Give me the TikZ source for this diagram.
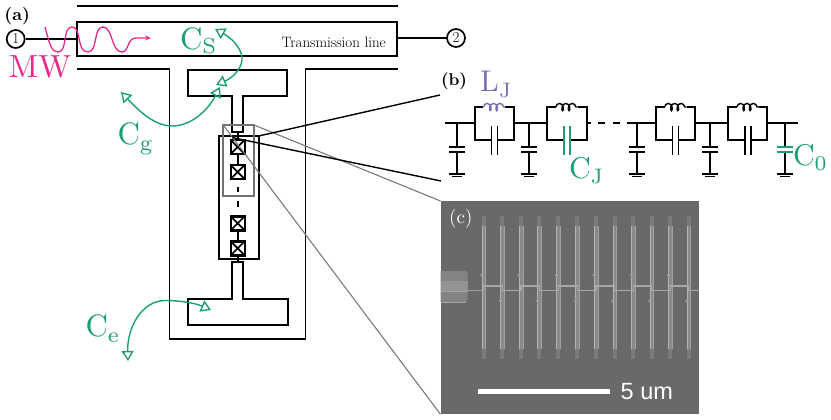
\documentclass[tikz,border=0pt]{standalone}
\usepackage{fontspec}
\newfontfamily\scalefont{Liberation Sans}
\usetikzlibrary{arrows.meta,decorations.pathmorphing}
\definecolor{dgreen}{HTML}{1B9E77}
\definecolor{dpurple}{HTML}{7570B3}
\definecolor{dpink}{HTML}{E7298A}
\definecolor{sembg}{HTML}{696969}
\newcommand{\fsz}[1]{\fontsize{#1}{#1}\selectfont}
% #1 scale, #2 letter, #3 subscript, #4 drop
\newcommand{\csub}[4]{\scalebox{#1}{\fsz{10}#2\raisebox{-#4pt}{\fsz{7}#3}}}
\tikzset{
  wire/.style={line width=1.8pt,black},
  thick wire/.style={line width=2pt,black},
  cwire/.style={line width=1.7pt,black},
  greyline/.style={line width=1.1pt,gray!95!black},
  port/.style={circle,draw,line width=1.7pt,fill=white,minimum size=18pt,inner sep=0pt,font=\fsz{15}},
  label text/.style={anchor=base west,inner sep=0pt,outer sep=0pt},
  jj/.style={line width=2.4pt,draw=black,fill=white,minimum size=14pt,inner sep=0pt,rectangle,
     path picture={\draw[line width=1.7pt] (path picture bounding box.south west)--(path picture bounding box.north east)
        (path picture bounding box.north west)--(path picture bounding box.south east);}},
  greenarrow/.style={line width=1.4pt,dgreen,{Triangle[open,length=10pt,width=12pt,line width=1.4pt]}-{Triangle[open,length=10pt,width=12pt,line width=1.4pt]}},
  coil/.style={decorate,decoration={coil,aspect=0.6,segment length=6.4pt,amplitude=3.6pt}},
  semtext/.style={anchor=base west,inner sep=0pt,white}
}
\begin{document}
\begin{tikzpicture}[x=1pt,y=-1pt]
\useasboundingbox (0,0) rectangle (831,420);
% --- zoom lines under picture
\coordinate (gA) at (254,125); \coordinate (gB) at (223,124.7);
\coordinate (semTL) at (440.5,201); \coordinate (semBL) at (440.5,414.3);
\coordinate (kA) at (258.7,136); \coordinate (kB) at (232,137.5);
\coordinate (kC) at (440,95); \coordinate (kD) at (441,181);
% --- transmission line
\draw[wire] (77,6) -- (398,6);
\draw[thick wire] (77,22.5) rectangle (397,56);
\draw[wire] (77,69) -- (169.5,69) -- (169.5,339) -- (305.5,339) -- (305.5,69) -- (398,69);
\node[port] (p1) at (15.7,39) {1};
\node[port] (p2) at (456,38) {2};
\draw[wire] (p1) -- (77,39);
\draw[wire] (397,38) -- (p2);
\node[label text,font=\fsz{15}] (tl) at (281.5,48) {Transmission line};
% --- transmon pads
\draw[thick wire] (232.3,132) -- (232.3,96) -- (188,96) -- (188,70) -- (287,70) -- (287,96) -- (243.3,96) -- (243.3,132) -- cycle;
\draw[thick wire] (232.3,262) -- (232.3,299.3) -- (187.7,299.3) -- (187.7,325.3) -- (287.7,325.3) -- (287.7,299.3) -- (243,299.3) -- (243,262) -- cycle;
% --- junction array
\draw[wire] (219,136) rectangle (258.7,258.7);
\node[jj] (j1) at (237.7,147) {};
\node[jj] (j2) at (237.7,172) {};
\node[jj] (j3) at (237.7,223.3) {};
\node[jj] (j4) at (237.7,248.3) {};
\coordinate (jtop) at (237.7,132); \coordinate (jbot) at (237.7,262);
\draw[wire] (jtop) -- (j1) (j1) -- (j2) (j3) -- (j4) (j4) -- (jbot);
\draw[wire] (237.7,186.5) -- (237.7,192);
\draw[wire] (237.7,201) -- (237.7,207);
% --- zoom frame
\draw[line width=1.9pt,gray!90!black] (223,124.7) rectangle (254,195.7);
\draw[greyline] (gA) -- (semTL);
\draw[greyline] (gB) -- (semBL);
\draw[line width=1.4pt,black] (kA) -- (kC);
\draw[line width=1.4pt,black] (kB) -- (kD);
% --- microwave
\draw[line width=1.3pt,dpink,-{Stealth[length=6pt,width=5pt]}] (45,27)
  .. controls (50,46) and (52,52) .. (58,52)
  .. controls (68,52) and (62,27) .. (72,27)
  .. controls (82,27) and (76,52) .. (88,52)
  .. controls (98,52) and (93,27) .. (103,27)
  .. controls (113,27) and (111,52) .. (122,52)
  .. controls (129,52) and (127,38) .. (136,38) -- (151,38);
\node[label text,dpink] (mw) at (9,78) {\scalebox{3.2}{\fsz{10}MW}};
% --- green capacitance arrows
\coordinate (csA) at (215,29); \coordinate (csB) at (216,85);
\coordinate (cgA) at (121,92); \coordinate (cgB) at (220,87);
\coordinate (ceA) at (211,310); \coordinate (ceB) at (128,361);
\draw[greenarrow] (csA) .. controls (235,40) and (243,52) .. (242,60) .. controls (241,70) and (232,78) .. (csB);
\draw[greenarrow] (cgA) .. controls (140,112) and (155,126) .. (172,126) .. controls (190,126) and (207,112) .. (cgB);
\draw[greenarrow] (ceA) .. controls (195,303) and (180,300.5) .. (165,300.5) .. controls (140,301) and (127,330) .. (ceB);
\node[label text,dgreen] (cs) at (180,50) {\csub{3.1}{C}{S}{1.2}};
\node[label text,dgreen] (cg) at (117.5,145) {\csub{3.1}{C}{g}{1.9}};
\node[label text,dgreen] (ce) at (85.5,336.5) {\csub{3.1}{C}{e}{1.9}};
\node[label text] (la) at (4.5,20.5) {\scalebox{1.75}{\fsz{10}\bfseries (a)}};
\node[label text] (lb) at (441,85) {\scalebox{1.7}{\fsz{10}\bfseries (b)}};
% --- circuit
\coordinate (wa) at (445,123.3); \coordinate (wz) at (797.7,123.3);
\draw[cwire] (wa) -- (474.7,123.3);
\foreach \l/\r/\nx [count=\i] in {474.7/514/546.7, 546.7/586.7/591, 656/695/728.3, 728.3/767.3/797.7}{
  \pgfmathsetmacro{\m}{(\l+\r)/2}
  \ifnum\i=2 \def\cc{dgreen}\else \def\cc{black}\fi
  \ifnum\i=1 \def\ci{dpurple}\else \def\ci{black}\fi
  \draw[cwire] (\l,123.3) -- (\l,107) -- (\m-11,107);
  \draw[cwire] (\m+11,107) -- (\r,107) -- (\r,123.3) -- (\nx,123.3);
  \draw[cwire] (\l,123.3) -- (\l,140) -- (\m-3,140);
  \draw[cwire] (\m+3,140) -- (\r,140) -- (\r,123.3);
  \draw[line width=1.4pt,\ci,coil] (\m-11,107) -- (\m+11,107);
  \draw[line width=1.7pt,\cc] (\m-3,126) -- (\m-3,155) (\m+3,126) -- (\m+3,155);
}
\draw[cwire] (626.7,123.3) -- (656,123.3);
\draw[cwire] (598.3,123.3) -- (605,123.3) (613.3,123.3) -- (620,123.3);
\foreach \x/\c in {456.7/black,529.3/black,637.3/black,710/black,785/dgreen}{
  \draw[cwire] (\x,123.3) -- (\x,146.7) (\x,151.7) -- (\x,174);
  \draw[line width=1.7pt,\c] (\x-8,146.7) -- (\x+8,146.7) (\x-8,151.7) -- (\x+8,151.7);
  \draw[line width=1.4pt] (\x-8,174) -- (\x+8,174) (\x-5,176.7) -- (\x+5,176.7);
}
\node[label text,dpurple] (lj) at (480,92) {\csub{3}{L}{J}{1.9}};
\node[label text,dgreen] (cj) at (569,178) {\csub{3}{C}{J}{1.9}};
\node[label text,dgreen] (c0) at (793,165) {\csub{3}{C}{0}{1.9}};
% --- SEM image
\fill[sembg] (440.5,201) rectangle (699,414.3);
\fill[white!17!sembg] (440.5,271) -- (465.5,271) -- (467.7,273) -- (467.7,300) -- (465.5,302) -- (440.5,302) -- cycle;
\fill[white!28!sembg] (440.5,281) rectangle (467.7,291.5);
\draw[line width=.7pt,white!40!sembg] (440.5,291.7) -- (467.7,291.7) (440.5,302) -- (465.5,302);
\draw[line width=1.2pt,white!35!sembg] (467.7,290.3) -- (484,290.3);
\foreach \x [count=\i] in {483.7,502.3,521,539.3,558.3,577.3,596,614.7,633.3,651.7,670.3,688.7}{
  \fill[white!12!sembg] (\x-2,216) rectangle (\x+2,358.7);
  \fill[white!22!sembg] (\x-1.8,226) rectangle (\x+1.8,349.3);
  \draw[line width=.7pt,white!50!sembg] (\x-1.8,226) -- (\x-1.8,349.3);
  \draw[line width=.5pt,white!38!sembg] (\x+1.8,226) -- (\x+1.8,349.3);
  \ifodd\i
    \fill[white!35!sembg] (\x-1.8,275) circle (1.8pt);
  \else
    \fill[white!35!sembg] (\x-1.8,301) circle (1.8pt);
  \fi
}
\draw[line width=1.2pt,white!42!sembg] (483.7,290.3) -- (483.7,286) -- (502.3,286) -- (502.3,290.3) -- (521,290.3) -- (521,286) -- (539.3,286) -- (539.3,290.3) -- (558.3,290.3) -- (558.3,286) -- (577.3,286) -- (577.3,290.3) -- (596,290.3) -- (596,286) -- (614.7,286) -- (614.7,290.3) -- (633.3,290.3) -- (633.3,286) -- (651.7,286) -- (651.7,290.3) -- (670.3,290.3) -- (670.3,286) -- (688.7,286) -- (688.7,290.3) -- (699,290.3);
\fill[white] (477.7,388.7) rectangle (610.3,393.7);
\node[semtext,font=\scalefont\fsz{23.5}] (um) at (620.5,399) {5 um};
\node[semtext] (lc) at (449,223) {\scalebox{1.9}{\fsz{10}(c)}};
\end{tikzpicture}
\end{document}
